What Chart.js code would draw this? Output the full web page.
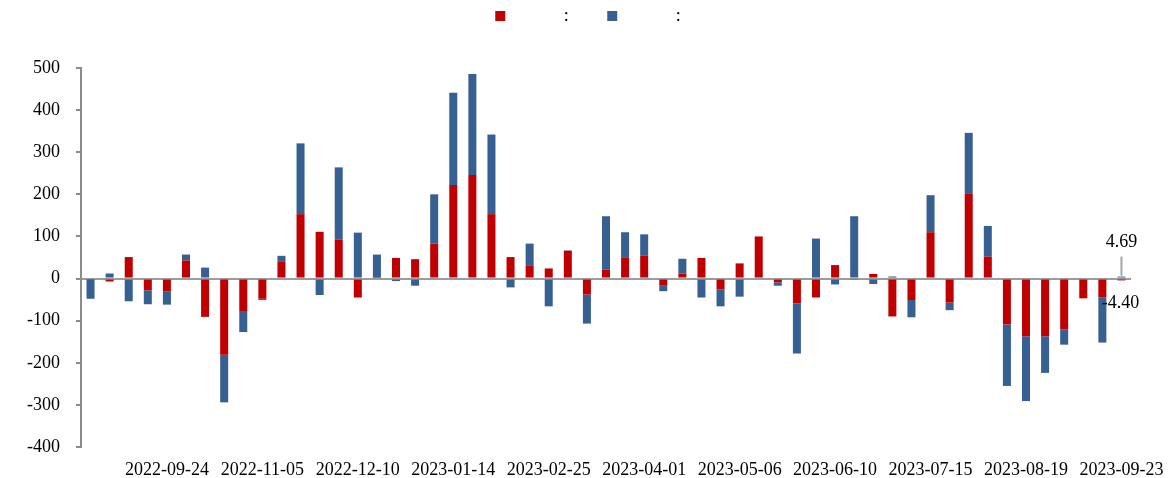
<!DOCTYPE html>
<html>
<head>
<meta charset="utf-8">
<script src="https://cdn.jsdelivr.net/npm/chart.js@4"></script>
<style>
  html, body { margin: 0; padding: 0; background: #ffffff; }
  canvas { display: block; }
</style>
</head>
<body>
<canvas id="c" width="1170" height="478"></canvas>
<script>
// ---- data ----
const categories = [
  '2022-08-27','2022-09-03','2022-09-10','2022-09-17','2022-09-24',
  '2022-10-01','2022-10-15','2022-10-22','2022-10-29','2022-11-05',
  '2022-11-12','2022-11-19','2022-11-26','2022-12-03','2022-12-10',
  '2022-12-17','2022-12-24','2022-12-31','2023-01-07','2023-01-14',
  '2023-01-21','2023-02-04','2023-02-11','2023-02-18','2023-02-25',
  '2023-03-04','2023-03-11','2023-03-18','2023-03-25','2023-04-01',
  '2023-04-08','2023-04-15','2023-04-22','2023-04-29','2023-05-06',
  '2023-05-13','2023-05-20','2023-05-27','2023-06-03','2023-06-10',
  '2023-06-17','2023-06-24','2023-07-01','2023-07-08','2023-07-15',
  '2023-07-22','2023-07-29','2023-08-05','2023-08-12','2023-08-19',
  '2023-08-26','2023-09-02','2023-09-09','2023-09-16','2023-09-23'
];
const shownTicks = [
  '2022-09-24','2022-11-05','2022-12-10','2023-01-14','2023-02-25','2023-04-01',
  '2023-05-06','2023-06-10','2023-07-15','2023-08-19','2023-09-23'
];
const redValues = [
  -2, -7, 51, -28, -31, 43, -91, -181, -77, -48,
  41, 153, 111, 93, -45, 2, 49, 46, 83, 222,
  246, 153, 51, 30, 24, 66, -38, 21, 49, 54,
  -17, 12, 49, -26, 36, 100, -9, -59, -45, 32,
  -3, 11, -90, -51, 110, -57, 201, 52, -109, -137,
  -137, -121, -47, -45, -4.40
];
const blueValues = [
  -46, 12, -54, -33, -31, 14, 26, -113, -50, -3,
  13, 168, -39, 171, 109, 55, -6, -17, 117, 219,
  240, 189, -21, 53, -66, 1, -69, 127, 61, 51,
  -13, 35, -45, -40, -43, 0, -8, -119, 95, -14,
  148, -13, 5, -41, 88, -18, 145, 73, -146, -154,
  -87, -36, 0, -107, 4.69
];
const seriesNames = ['           :       ', '           :        '];
const yMin = -400, yMax = 500, yStep = 100;

// ---- styles ----
const FONT = '"Liberation Serif", "Times New Roman", serif';
const RED = '#C00000';
const BLUE = '#376092';

const lastLabels = {
  id: 'lastLabels',
  afterDatasetsDraw(chart) {
    const ctx = chart.ctx;
    const n = categories.length - 1;
    const redEl = chart.getDatasetMeta(0).data[n];
    const blueEl = chart.getDatasetMeta(1).data[n];
    ctx.save();
    ctx.font = '18px ' + FONT;
    ctx.fillStyle = '#000';
    ctx.textAlign = 'center';
    ctx.textBaseline = 'middle';
    // blue label with leader line
    ctx.strokeStyle = '#a6a6a6';
    ctx.lineWidth = 2;
    ctx.beginPath();
    ctx.moveTo(blueEl.x, blueEl.y - 20);
    ctx.lineTo(blueEl.x, blueEl.y - 1);
    ctx.stroke();
    ctx.fillText(blueValues[n].toFixed(2), blueEl.x, blueEl.y - 34);
    // red label
    ctx.fillText(redValues[n].toFixed(2), redEl.x - 1, redEl.y + 23);
    ctx.restore();
  }
};

new Chart(document.getElementById('c'), {
  type: 'bar',
  data: {
    labels: categories,
    datasets: [
      { label: seriesNames[0], data: redValues, backgroundColor: RED, borderWidth: 0 },
      { label: seriesNames[1], data: blueValues, backgroundColor: BLUE, borderWidth: 0 }
    ]
  },
  options: {
    responsive: false,
    animation: false,
    devicePixelRatio: 1,
    layout: { padding: { left: 27, right: 39, top: 0, bottom: 0 } },
    datasets: { bar: { barPercentage: 0.42, categoryPercentage: 1.0 } },
    plugins: {
      legend: {
        position: 'top',
        fullSize: false,
        labels: {
          boxWidth: 10,
          boxHeight: 10,
          padding: 7,
          color: '#000',
          font: { family: FONT, size: 18 }
        }
      },
      title: {
        display: true,
        text: '',
        weight: 500,
        font: { size: 10, lineHeight: 1 },
        padding: { top: 0, bottom: 23 }
      },
      tooltip: { enabled: false }
    },
    scales: {
      x: {
        stacked: true,
        grid: { display: false, drawTicks: false },
        border: { display: false },
        ticks: {
          autoSkip: false,
          maxRotation: 0,
          minRotation: 0,
          padding: 12,
          color: '#000',
          font: { family: FONT, size: 18 },
          callback(value, index) {
            const lab = categories[index];
            return shownTicks.includes(lab) ? lab : '';
          }
        },
        afterFit(s) { s.height = 31; s.paddingLeft = 0; s.paddingRight = 0; }
      },
      y: {
        stacked: true,
        z: 1,
        min: yMin,
        max: yMax,
        grid: {
          drawTicks: true,
          tickLength: 5,
          tickColor: '#8c8c8c',
          tickWidth: 2,
          lineWidth: 2,
          color(ctx) { return ctx.tick && ctx.tick.value === 0 ? '#9c9c9c' : 'rgba(0,0,0,0)'; }
        },
        border: { display: true, color: '#8c8c8c', width: 2 },
        ticks: {
          stepSize: yStep,
          padding: 16,
          color: '#000',
          font: { family: FONT, size: 18 }
        },
        afterFit(s) { s.width = 54; s.paddingTop = 0; s.paddingBottom = 0; }
      }
    }
  },
  plugins: [lastLabels]
});
</script>
</body>
</html>
